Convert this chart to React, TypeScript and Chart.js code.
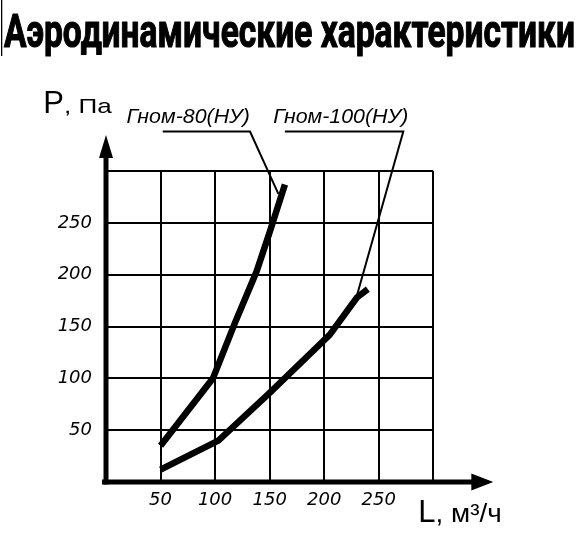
import React, { useEffect, useRef } from 'react';
import { Chart, registerables } from 'chart.js';

Chart.register(...registerables);

const TITLE = 'Аэродинамические характеристики';
const Y_TITLE_MAIN = 'P';
const Y_TITLE_REST = ', Па';
const X_TITLE_MAIN = 'L';
const X_TITLE_REST = ', м³/ч';

const xTickLabels = [50, 100, 150, 200, 250];
const yTickLabels = [50, 100, 150, 200, 250];

const gnom80Label = 'Гном-80(НУ)';
const gnom80L = [50, 98, 118, 138, 150, 164];
const gnom80P = [35, 100, 153, 203, 241, 287];

const gnom100Label = 'Гном-100(НУ)';
const gnom100L = [50, 103, 150, 205, 230, 240];
const gnom100P = [12, 40, 86, 142, 178, 186];

// callout (leader) lines, in data units
const leader80L = [52, 132, 158];
const leader80P = [338, 338, 278];
const leader100L = [164, 272.5, 230];
const leader100P = [338, 338, 180];

// label centres along L, in data units
const labelCenterL = [75.4, 215.2];

const toPoints = (xs: number[], ys: number[]) => xs.map((x, i) => ({ x, y: ys[i] }));

const fitText = (
  ctx: CanvasRenderingContext2D,
  text: string,
  x: number,
  y: number,
  width: number,
  align: 'left' | 'center',
  strokeW = 0
) => {
  const w = ctx.measureText(text).width;
  const s = width / w;
  ctx.save();
  ctx.translate(x, y);
  ctx.scale(s, 1);
  ctx.textAlign = 'left';
  ctx.textBaseline = 'alphabetic';
  const tx = align === 'center' ? -w / 2 : 0;
  ctx.fillText(text, tx, 0);
  if (strokeW > 0) {
    ctx.lineWidth = strokeW;
    ctx.lineJoin = 'round';
    ctx.strokeText(text, tx, 0);
  }
  ctx.restore();
};

const decorPlugin = {
  id: 'decor',
  afterDraw(chart: any) {
    const { ctx, chartArea, scales } = chart;
    const x0 = scales.x.getPixelForValue(0);
    const y0 = scales.y.getPixelForValue(0);
    ctx.save();
    ctx.fillStyle = '#000';
    ctx.strokeStyle = '#000';
    ctx.lineCap = 'butt';

    // axes
    ctx.lineWidth = 5;
    ctx.beginPath();
    ctx.moveTo(x0, y0 + 2.5);
    ctx.lineTo(x0, chartArea.top - 20);
    ctx.stroke();
    const tipY = chartArea.top - 36;
    ctx.beginPath();
    ctx.moveTo(x0, tipY);
    ctx.lineTo(x0 - 7, tipY + 23);
    ctx.lineTo(x0 + 7, tipY + 23);
    ctx.closePath();
    ctx.fill();

    ctx.beginPath();
    ctx.moveTo(x0 - 4, y0);
    ctx.lineTo(chartArea.right + 45, y0);
    ctx.stroke();
    const tipX = chartArea.right + 60;
    ctx.beginPath();
    ctx.moveTo(tipX, y0);
    ctx.lineTo(tipX - 22, y0 - 8.5);
    ctx.lineTo(tipX - 22, y0 + 8.5);
    ctx.closePath();
    ctx.fill();

    // thin edge line at top-left
    ctx.fillRect(1, 0, 1.3, 56);

    // title
    ctx.font = 'bold 47px Roboto';
    fitText(ctx, TITLE, 4, 47, 571, 'left', 1.2);

    ctx.textAlign = 'left';
    ctx.textBaseline = 'alphabetic';

    // y axis title
    ctx.font = '31px "Liberation Sans"';
    const px = x0 - 62.7;
    const py = chartArea.top - 57.7;
    const wP = ctx.measureText(Y_TITLE_MAIN).width;
    ctx.fillText(Y_TITLE_MAIN, px, py);
    ctx.font = '21px "Liberation Sans"';
    fitText(ctx, Y_TITLE_REST, px + wP, py, 68.4 - wP, 'left');

    // x axis title
    ctx.font = '31px "Liberation Sans"';
    const lx = chartArea.right - 15;
    const ly = y0 + 39.7;
    const wL = ctx.measureText(X_TITLE_MAIN).width;
    ctx.fillText(X_TITLE_MAIN, lx, ly);
    ctx.font = '25px "Liberation Sans"';
    fitText(ctx, X_TITLE_REST, lx + wL, ly, 83.4 - wL, 'left');

    // series labels
    ctx.font = 'italic 20px "Liberation Sans"';
    const labY = scales.y.getPixelForValue(leader80P[0]) - 9;
    fitText(ctx, gnom80Label, scales.x.getPixelForValue(labelCenterL[0]), labY, 123.3, 'center');
    fitText(ctx, gnom100Label, scales.x.getPixelForValue(labelCenterL[1]), labY, 135, 'center');

    ctx.restore();
  },
};

const tickFont = { family: '"DejaVu Sans"', style: 'italic' as const, size: 18 };
const gridColor = (c: any) => (c.tick && c.tick.value === 0 ? 'rgba(0,0,0,0)' : '#000');

export default function App() {
  const ref = useRef<HTMLCanvasElement | null>(null);

  useEffect(() => {
    if (!ref.current) return;
    const thick = {
      borderColor: '#000',
      borderWidth: 6.5,
      pointRadius: 0,
      tension: 0,
      fill: false,
      borderCapStyle: 'butt' as const,
      borderJoinStyle: 'miter' as const,
    };
    const thin = {
      borderColor: '#000',
      borderWidth: 2,
      pointRadius: 0,
      tension: 0,
      fill: false,
      clip: false as const,
    };
    const chart = new Chart(ref.current, {
      type: 'line',
      data: {
        datasets: [
          { label: gnom80Label, data: toPoints(gnom80L, gnom80P), ...thick },
          { label: gnom100Label, data: toPoints(gnom100L, gnom100P), ...thick },
          { label: gnom80Label + ' callout', data: toPoints(leader80L, leader80P), ...thin },
          { label: gnom100Label + ' callout', data: toPoints(leader100L, leader100P), ...thin },
        ],
      },
      options: {
        animation: false,
        responsive: false,
        maintainAspectRatio: false,
        events: [],
        layout: { padding: { left: 0, right: 146.7, top: 171, bottom: 0 } },
        plugins: {
          legend: { display: false },
          tooltip: { enabled: false },
          title: { display: false },
        },
        scales: {
          x: {
            type: 'linear',
            min: 0,
            max: 300,
            border: { display: false },
            grid: { color: gridColor, lineWidth: 2, drawTicks: false },
            ticks: {
              stepSize: 50,
              autoSkip: false,
              maxRotation: 0,
              padding: 8,
              color: '#000',
              font: tickFont,
              callback: (v: any) => (xTickLabels.includes(Number(v)) ? String(v) : ''),
            },
            afterFit: (s: any) => {
              s.height = 73;
            },
          },
          y: {
            type: 'linear',
            min: 0,
            max: 300,
            border: { display: false },
            grid: { color: gridColor, lineWidth: 2, drawTicks: false },
            ticks: {
              stepSize: 50,
              autoSkip: false,
              padding: 14,
              color: '#000',
              font: tickFont,
              callback: (v: any) => (yTickLabels.includes(Number(v)) ? String(v) : ''),
            },
            afterFit: (s: any) => {
              s.width = 106;
            },
          },
        },
      },
      plugins: [decorPlugin],
    });
    return () => chart.destroy();
  }, []);

  return (
    <div style={{ position: 'fixed', left: 0, top: 0, width: 580, height: 555, background: '#fff' }}>
      <canvas ref={ref} width={580} height={555} style={{ width: 580, height: 555, display: 'block' }} />
    </div>
  );
}
